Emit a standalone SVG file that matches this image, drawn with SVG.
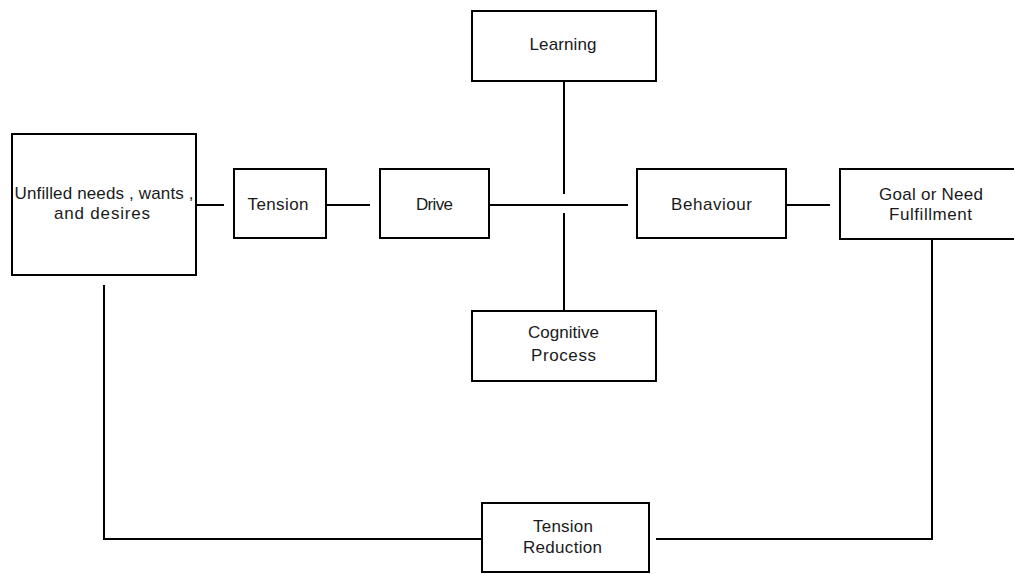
<svg xmlns="http://www.w3.org/2000/svg" width="1014" height="574" viewBox="0 0 1014 574">
  <style>
    .box { fill: #ffffff; stroke: #000000; stroke-width: 2; }
    .link { fill: none; stroke: #000000; stroke-width: 2; }
    .lbl { font-family: "Liberation Sans", Arial, sans-serif; font-size: 17px; fill: #1a1a1a; text-anchor: middle; }
  </style>
  <rect width="1014" height="574" fill="#ffffff"/>

  <!-- connectors -->
  <g id="connectors">
    <line class="link" x1="196" y1="205" x2="224" y2="205"/>
    <line class="link" x1="326" y1="205" x2="370" y2="205"/>
    <line class="link" x1="489" y1="205" x2="628" y2="205"/>
    <line class="link" x1="564" y1="81" x2="564" y2="194"/>
    <line class="link" x1="564" y1="213" x2="564" y2="311"/>
    <line class="link" x1="786" y1="205" x2="830" y2="205"/>
    <polyline class="link" points="932,239 932,539 656,539"/>
    <polyline class="link" points="482,539 104,539 104,285"/>
  </g>

  <g id="unfilled-needs">
    <rect class="box" x="12" y="134" width="184" height="141"/>
    <text class="lbl" x="104" y="199" textLength="179" lengthAdjust="spacing">Unfilled needs , wants ,</text>
    <text class="lbl" x="102" y="219" textLength="96" lengthAdjust="spacing">and desires</text>
  </g>

  <g id="tension">
    <rect class="box" x="234" y="169" width="92" height="69"/>
    <text class="lbl" x="278" y="210" textLength="61" lengthAdjust="spacing">Tension</text>
  </g>

  <g id="drive">
    <rect class="box" x="380" y="169" width="109" height="69"/>
    <text class="lbl" x="434.5" y="210" textLength="37" lengthAdjust="spacing">Drive</text>
  </g>

  <g id="learning">
    <rect class="box" x="472" y="11" width="184" height="70"/>
    <text class="lbl" x="563" y="50" textLength="67" lengthAdjust="spacing">Learning</text>
  </g>

  <g id="cognitive-process">
    <rect class="box" x="472" y="311" width="184" height="70"/>
    <text class="lbl" x="563.5" y="338" textLength="71" lengthAdjust="spacing">Cognitive</text>
    <text class="lbl" x="563.5" y="361" textLength="65" lengthAdjust="spacing">Process</text>
  </g>

  <g id="behaviour">
    <rect class="box" x="637" y="169" width="149" height="69"/>
    <text class="lbl" x="711.5" y="210" textLength="81" lengthAdjust="spacing">Behaviour</text>
  </g>

  <g id="goal-fulfillment">
    <rect class="box" x="840" y="169" width="190" height="70"/>
    <text class="lbl" x="931" y="200" textLength="104" lengthAdjust="spacing">Goal or Need</text>
    <text class="lbl" x="930.5" y="220" textLength="83" lengthAdjust="spacing">Fulfillment</text>
  </g>

  <g id="tension-reduction">
    <rect class="box" x="482" y="503" width="167" height="69"/>
    <text class="lbl" x="563" y="532" textLength="60" lengthAdjust="spacing">Tension</text>
    <text class="lbl" x="562.5" y="553" textLength="79" lengthAdjust="spacing">Reduction</text>
  </g>
</svg>
